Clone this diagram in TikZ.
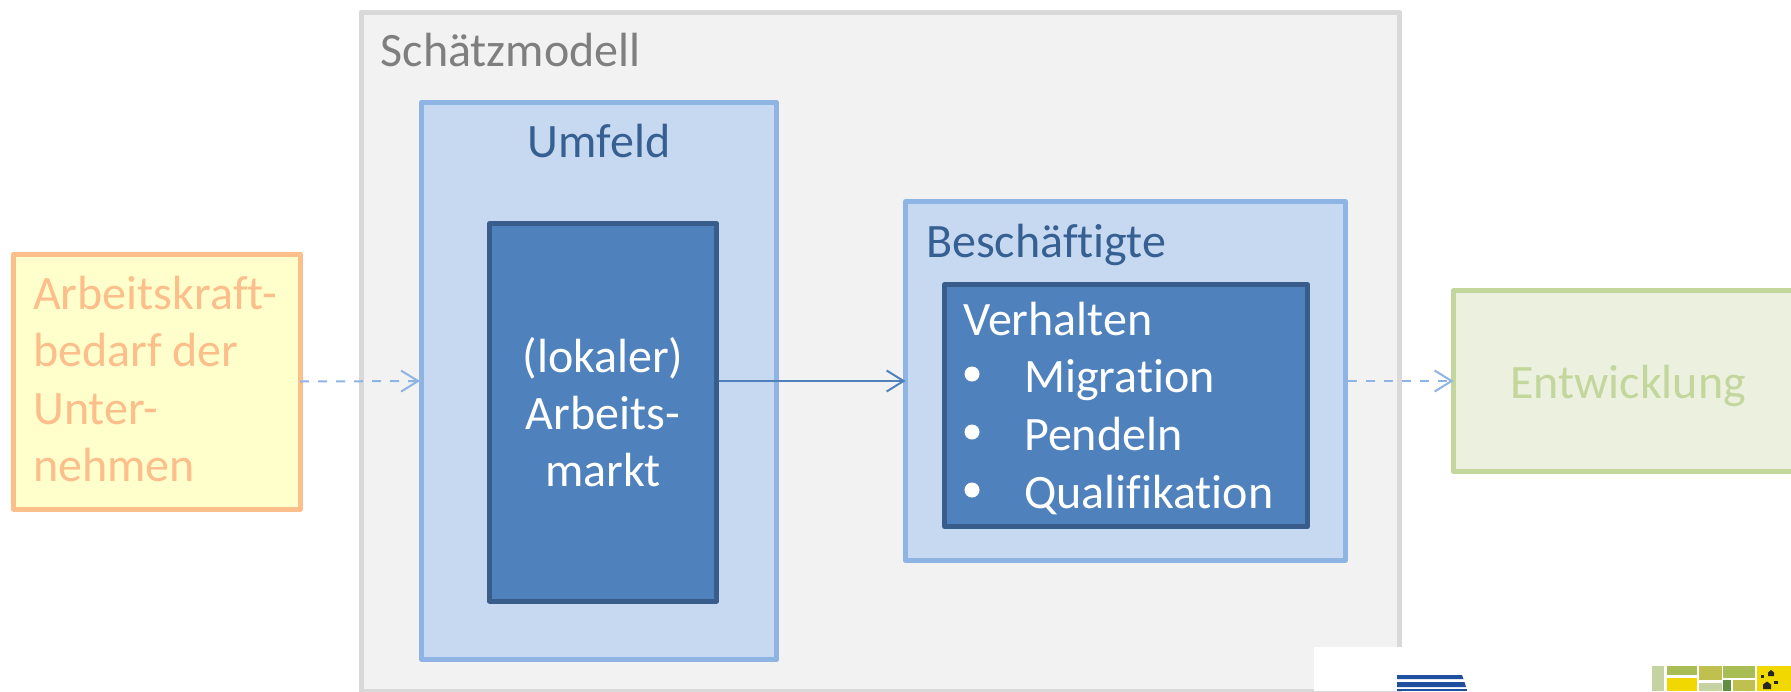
\documentclass[tikz,border=0pt]{standalone}
\usepackage{fontspec}
\setmainfont[Ligatures=NoCommon]{Carlito}
\usetikzlibrary{arrows.meta}
\definecolor{frameline}{HTML}{D9D9D9}
\definecolor{framefill}{HTML}{F2F2F2}
\definecolor{frametext}{HTML}{7F7F7F}
\definecolor{lightfill}{HTML}{C6D9F1}
\definecolor{lightline}{HTML}{8EB4E3}
\definecolor{lighttext}{HTML}{376092}
\definecolor{darkfill}{HTML}{4F81BD}
\definecolor{darkline}{HTML}{385D8A}
\definecolor{yelfill}{HTML}{FFFFCC}
\definecolor{orline}{HTML}{FCBE8A}
\definecolor{gfill}{HTML}{EBF1DE}
\definecolor{gline}{HTML}{C3D69B}
\definecolor{logoblue}{HTML}{1F4F9F}
\definecolor{logopale}{HTML}{C5D3A3}
\definecolor{logoolive}{HTML}{A8BD55}
\definecolor{logomid}{HTML}{BFC050}
\definecolor{logoyel}{HTML}{F0D800}
\definecolor{logogreen}{HTML}{5D9040}
\tikzset{
  panel/.style={rectangle,inner sep=0pt,line width=5pt,line join=round},
  framebox/.style={panel,draw=frameline,fill=framefill},
  lightbox/.style={panel,draw=lightline,fill=lightfill},
  darkbox/.style={panel,draw=darkline,fill=darkfill},
  inputbox/.style={panel,draw=orline,fill=yelfill},
  outputbox/.style={panel,draw=gline,fill=gfill},
  label/.style={anchor=base west,inner sep=0pt,font=\fontsize{48}{57}\selectfont},
  clabel/.style={anchor=base,inner sep=0pt,font=\fontsize{48}{57}\selectfont},
  flowdash/.style={draw=lightline,line width=2pt,dash pattern=on 9pt off 9pt,-{Straight Barb[length=17pt,width=21pt,line width=2pt]}},
  flowsolid/.style={draw=darkfill,line width=2pt,-{Straight Barb[length=17pt,width=21pt,line width=2pt]}},
  dotbullet/.style={circle,fill=white,inner sep=0pt,minimum size=15pt}
}
\begin{document}
\begin{tikzpicture}[x=1pt,y=-1pt]
\clip (0,0) rectangle (1791,691);
\fill[white] (0,0) rectangle (1791,691);
% boxes
\node[framebox,minimum width=1038.5pt,minimum height=679.5pt] (frame) at (880.25,351.75) {};
\node[lightbox,minimum width=355pt,minimum height=556.5pt] (umfeld) at (599,381) {};
\node[darkbox,minimum width=227pt,minimum height=377.5pt] (markt) at (603,412.25) {};
\node[lightbox,minimum width=440pt,minimum height=359pt] (besch) at (1125.5,381) {};
\node[darkbox,minimum width=363pt,minimum height=242pt] (verh) at (1126,405.5) {};
\node[inputbox,minimum width=287pt,minimum height=255pt] (bedarf) at (157,381.5) {};
\node[outputbox,minimum width=350pt,minimum height=181pt] (entw) at (1628.5,381) {};
% connectors
\draw[flowdash] ([xshift=-3pt]bedarf.east) -- ([xshift=1pt]umfeld.west);
\draw[flowsolid] (markt.east |- umfeld.center) -- ([xshift=2.5pt]besch.west);
\draw[flowdash] (besch.east) -- ([xshift=2.5pt]entw.west);
% texts
\node[label,text=frametext] (t1) at (380.5,66.5) {Schätzmodell};
\node[clabel,text=lighttext] (t2) at (599,157.5) {Umfeld};
\node[clabel,text=white] (t3) at (603,372) {(lokaler)};
\node[clabel,text=white] (t4) at (603,429.5) {Arbeits-};
\node[clabel,text=white] (t5) at (603,486) {markt};
\node[label,text=lighttext] (t6) at (926,257) {Beschäftigte};
\node[label,text=white] (t7) at (963,335) {Verhalten};
\node[dotbullet] (b1) at (972,374) {};
\node[dotbullet] (b2) at (972,432) {};
\node[dotbullet] (b3) at (972,490) {};
\node[label,text=white] (t8) at (1024,392) {Migration};
\node[label,text=white] (t9) at (1024,450) {Pendeln};
\node[label,text=white] (t10) at (1024,508) {Qualifikation};
\node[label,text=orline] (t11) at (33,309) {Arbeitskraft-};
\node[label,text=orline] (t12) at (33,366) {bedarf der};
\node[label,text=orline] (t13) at (33,424) {Unter-};
\node[label,text=orline] (t14) at (33,481) {nehmen};
\node[label,text=gline] (t15) at (1510,398) {Entwicklung};
% cut-out at the lower right with the two logos
\fill[white] (1314,647) rectangle (1791,691);
\fill[logoblue] (1397,675) -- (1462,675) -- (1463.5,679) -- (1397,679) -- cycle;
\fill[logoblue] (1397,682) -- (1464.5,682) -- (1466,687) -- (1397,687) -- cycle;
\fill[logoblue] (1397,689) -- (1467,689) -- (1467,691) -- (1397,691) -- cycle;
\fill[logopale] (1652,666) rectangle (1664,691);
\fill[logoolive] (1667,666) rectangle (1697,675);
\fill[logoyel] (1667,678) rectangle (1697,691);
\fill[logomid] (1699,666) rectangle (1722,680);
\fill[logopale] (1699,683) rectangle (1722,691);
\fill[logoolive] (1723,666) rectangle (1755,678);
\fill[logogreen] (1723,680) rectangle (1731,691);
\fill[logomid] (1733,680) rectangle (1755,691);
\fill[logoyel] (1757,666) rectangle (1791,691);
\fill[black!85] (1761,675) rectangle (1764,678);
\fill[black!85] (1768,676) -- (1768,672.5) -- (1771,670) -- (1774,672.5) -- (1774,676) -- cycle;
\fill[black!85] (1763,689) -- (1763,684.5) -- (1767,681.5) -- (1771,684.5) -- (1771,689) -- cycle;
\fill[black!85] (1774,680.5) rectangle (1778,684);
\end{tikzpicture}
\end{document}
